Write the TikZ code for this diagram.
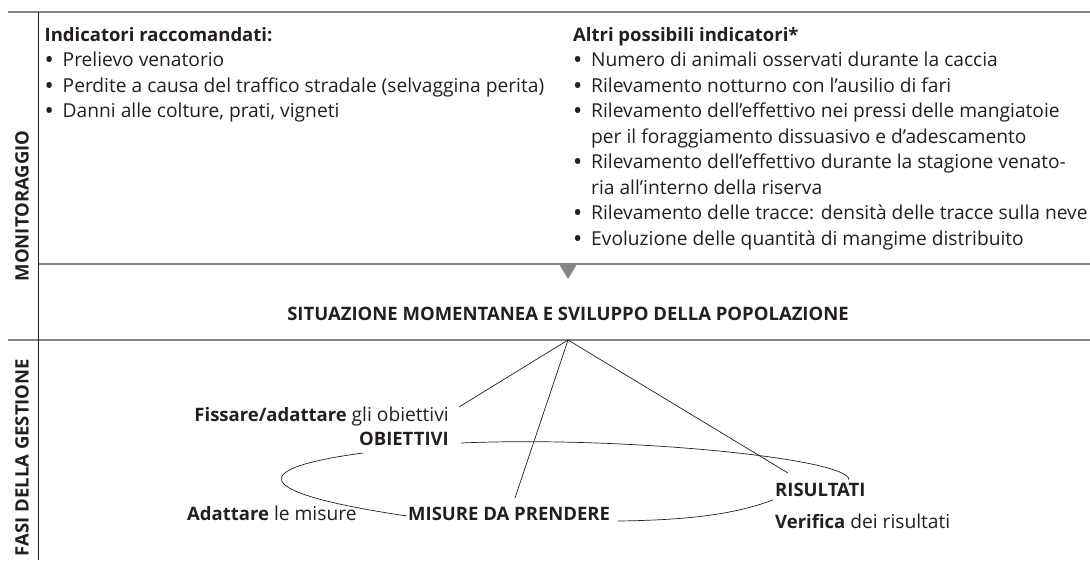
\documentclass[tikz,border=0pt]{standalone}
\usepackage{fontspec}
\setmainfont{Open Sans}
\usepackage{tikz}
\usetikzlibrary{positioning,calc}
\definecolor{ink}{HTML}{231F20}
\definecolor{rule}{HTML}{858585}
\tikzset{
 chart/.style={x=1pt,y=-1pt,
   font=\fontsize{19.2}{25.5}\selectfont,
   text=ink},
 frame/.style={draw=rule,line width=1.3pt},
 spine/.style={draw=ink,line width=0.9pt},
 txt/.style={inner sep=0pt,align=left},
 head/.style={txt,font=\fontsize{18.5}{25.5}\selectfont\bfseries},
 side/.style={head,rotate=90},
 link/.style={draw=ink,line width=0.7pt},
 marker/.style={fill=rule,draw=none}
 }
\newcommand{\hd}[1]{{\fontsize{18.5}{25.5}\selectfont\bfseries #1}}
\newcommand{\itm}{\makebox[18pt][l]{\hspace{1pt}\textbf{\textbullet}}}
\newcommand{\cont}{\hspace*{18pt}}

\begin{document}
\begin{tikzpicture}[chart]
      \useasboundingbox (0,0) rectangle (1090,560);
      \draw[frame] (8,12) -- (1090,12);
      \draw[frame] (38,264) -- (1090,264);
      \draw[frame] (8,340) -- (1090,340);
      \draw[spine] (38,12) -- (38,560);
      \fill[marker] (559,264) -- (577,264) -- (568,279) -- cycle;
      \node[side] (mon) at (22,206) {MONITORAGGIO};
      \node[side] (fasi) at (22,457.5) {FASI DELLA GESTIONE};
      \node[txt,anchor=base west] (rec) at (44.5,117.5) {\hd{Indicatori raccomandati:}\\
        \itm Prelievo venatorio\\
        \itm Perdite a causa del traffico stradale (selvaggina perita)\\
        \itm Danni alle colture, prati, vigneti};
      \node[txt,anchor=base west] (alt) at (573,245) {\hd{Altri possibili indicatori*}\\
        \itm Numero di animali osservati durante la caccia\\
        \itm Rilevamento notturno con l’ausilio di fari\\
        \itm Rilevamento dell’effettivo nei pressi delle mangiatoie\\
        \cont per il foraggiamento dissuasivo e d’adescamento\\
        \itm Rilevamento dell’effettivo durante la stagione venato-\\
        \cont ria all’interno della riserva\\
        \itm Rilevamento delle tracce: densità delle tracce sulla neve\\
        \itm Evoluzione delle quantità di mangime distribuito};
      \node[head,anchor=base] (sit) at (568,320) {SITUAZIONE MOMENTANEA E SVILUPPO DELLA POPOLAZIONE};
      \coordinate (apex) at (568,340);
      \node[txt,anchor=base east] (fix) at (449,421) {\hd{Fissare/adattare} gli obiettivi};
      \node[head,anchor=base east] (obj) at (449,445.5) {OBIETTIVI};
      \node[txt,anchor=base west] (adapt) at (187,520) {\hd{Adattare} le misure};
      \node[head,anchor=base west] (meas) at (408,520.5) {MISURE DA PRENDERE};
      \node[head,anchor=base west] (res) at (775,496.5) {RISULTATI};
      \node[txt,anchor=base west] (ver) at (775,528) {\hd{Verifica} dei risultati};
      \coordinate (fixend) at (459,407);
      \coordinate (measend) at (515,498);
      \coordinate (resend) at (788,473);
      \draw[link] (apex) -- (fixend);
      \draw[link] (apex) -- (measend);
      \draw[link] (apex) -- (resend);
      \coordinate (o1) at (461,443);
      \coordinate (o2) at (363,453);
      \coordinate (m1) at (407,516);
      \coordinate (m2) at (618,521);
      \coordinate (r1) at (849,480);
      \coordinate (v1) at (773,500);
      \draw[link] (o1) .. controls (620,436) and (850,458) .. (r1);
      \draw[link] (o2) .. controls (250,468) and (245,492) .. (m1);
      \draw[link] (m2) .. controls (700,520) and (740,512) .. (v1);
    \end{tikzpicture}
\end{document}
